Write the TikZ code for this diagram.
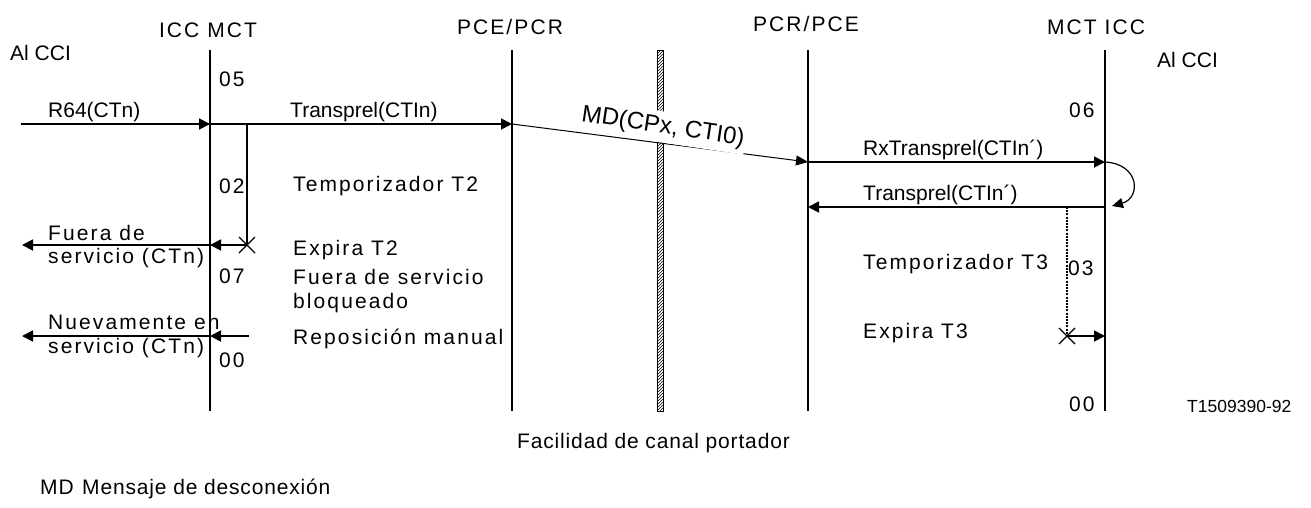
\documentclass[tikz,border=0pt]{standalone}
\usepackage{fontspec}
\setmainfont{Liberation Sans}
\newfontfamily\spf[LetterSpace=10]{Liberation Sans}
\newfontfamily\spg[LetterSpace=4]{Liberation Sans}
\usetikzlibrary{arrows.meta,patterns,calc}
\begin{document}
\begin{tikzpicture}[x=1pt,y=-1pt,
  life/.style={line width=1.8pt},
  msg/.style={line width=1.8pt,-{Triangle[length=11pt,width=11pt]}},
  thinmsg/.style={line width=1pt,-{Triangle[length=12pt,width=10pt]}},
  txt/.style={anchor=base west,inner sep=0pt,font=\fontsize{21}{25}\selectfont},
  stxt/.style={anchor=base west,inner sep=0pt,font=\spf\fontsize{21}{25}\selectfont},
  head/.style={anchor=base,inner sep=0pt,font=\spf\fontsize{21}{25}\selectfont},
  xmark/.style={line width=1.3pt},
  dotline/.style={line width=1.3pt,dash pattern=on 2pt off 1.2pt}
]
\useasboundingbox (0,0) rectangle (1311,507);

% lifeline heads
\node[head] (h1) at (208,37) {ICC MCT};
\node[head] (h2) at (510,34) {PCE/PCR};
\node[head] (h3) at (806,31) {PCR/PCE};
\node[head] (h4) at (1096,34) {MCT ICC};

% lifelines
\coordinate (a1) at (210,50);  \coordinate (b1) at (210,411);
\coordinate (a2) at (512,50);  \coordinate (b2) at (512,411);
\coordinate (a3) at (808,50);  \coordinate (b3) at (808,411);
\coordinate (a4) at (1105,50); \coordinate (b4) at (1105,411);
\draw[life] (a1) -- (b1);
\draw[life] (a2) -- (b2);
\draw[life] (a3) -- (b3);
\draw[life] (a4) -- (b4);

% bearer facility bar
\draw[line width=0.8pt,pattern=north east lines] (657,50) rectangle (663,411);

% coordinates of messages
\coordinate (p0) at (21,124);
\coordinate (p1) at (210,124);
\coordinate (p2) at (512,124);
\coordinate (p3) at (808,162);
\coordinate (p4) at (1105,162);
\coordinate (p5) at (1105,207);
\coordinate (p6) at (808,207);
\coordinate (t2a) at (247,124);
\coordinate (t2x) at (247,245);
\coordinate (f1) at (210,245);
\coordinate (f0) at (22,245);
\coordinate (r2) at (249,336);
\coordinate (r1) at (210,336);
\coordinate (r0) at (22,336);
\coordinate (t3a) at (1067,207);
\coordinate (t3x) at (1067,336);
\coordinate (e4) at (1105,336);
\coordinate (c1) at (1112,206);

\draw[msg] (p0) -- (p1);
\draw[msg] (p1) -- (p2);
\draw[thinmsg] (p2) -- (p3);
\node[fill=white,rotate=-8.5,inner sep=1.5pt,minimum height=31pt,font=\fontsize{24}{28}\selectfont] (md) at (663,127) {MD(CPx, CTI0)};
\draw[msg] (p3) -- (p4);
\draw[msg] (p5) -- (p6);
\draw[line width=1.2pt,-{Triangle[length=11pt,width=10pt]}] (p4) .. controls (1140,164) and (1141,198) .. (c1);

% timer T2
\draw[life] (t2a) -- (t2x);
\draw[xmark] ($(t2x)+(-8,-8)$) -- ($(t2x)+(8,8)$) ($(t2x)+(-8,8)$) -- ($(t2x)+(8,-8)$);
\draw[msg] (t2x) -- (f1);
\draw[msg] (f1) -- (f0);
\draw[msg] (r2) -- (r1);
\draw[msg] (r1) -- (r0);

% timer T3
\draw[dotline] (t3a) -- (t3x);
\draw[xmark] ($(t3x)+(-8,-8)$) -- ($(t3x)+(8,8)$) ($(t3x)+(-8,8)$) -- ($(t3x)+(8,-8)$);
\draw[msg] (t3x) -- (e4);

% texts
\node[txt] (alcci1) at (10,60) {Al CCI};
\node[txt] (alcci2) at (1157,67) {Al CCI};
\node[stxt] (s05) at (219,86) {05};
\node[txt] (r64) at (48,117) {R64(CTn)};
\node[txt] (tp1) at (290,117) {Transprel(CTIn)};
\node[stxt] (s02) at (219,193) {02};
\node[stxt] (tt2) at (293,191) {Temporizador T2};
\node[stxt] (fu1) at (48,240) {Fuera de};
\node[stxt] (fu2) at (48,263) {servicio (CTn)};
\node[stxt] (ex2) at (293,255) {Expira T2};
\node[stxt] (s07) at (219,283) {07};
\node[stxt] (fsb1) at (293,284) {Fuera de servicio};
\node[stxt] (fsb2) at (293,308) {bloqueado};
\node[stxt] (nu1) at (48,329) {Nuevamente en};
\node[stxt] (nu2) at (48,353) {servicio (CTn)};
\node[stxt] (rep) at (293,344) {Reposición manual};
\node[stxt] (s00a) at (219,367) {00};
\node[txt] (rx) at (863,155) {RxTransprel(CTIn´)};
\node[txt] (tp2) at (863,200) {Transprel(CTIn´)};
\node[stxt] (s06) at (1069,117) {06};
\node[stxt] (tt3) at (863,269) {Temporizador T3};
\node[stxt] (s03) at (1068,275) {03};
\node[stxt] (ex3) at (863,338) {Expira T3};
\node[stxt] (s00b) at (1069,411) {00};
\node[anchor=base west,inner sep=0pt,font=\fontsize{17.5}{21}\selectfont] (ref) at (1187,412) {T1509390-92};
\node[anchor=base west,inner sep=0pt,font=\spg\fontsize{21}{25}\selectfont] (fac) at (517,448) {Facilidad de canal portador};
\node[anchor=base west,inner sep=0pt,font=\spg\fontsize{21}{25}\selectfont] (leg1) at (40,494) {MD};
\node[anchor=base west,inner sep=0pt,font=\spg\fontsize{21}{25}\selectfont] (leg2) at (82,494) {Mensaje de desconexión};
\end{tikzpicture}
\end{document}
